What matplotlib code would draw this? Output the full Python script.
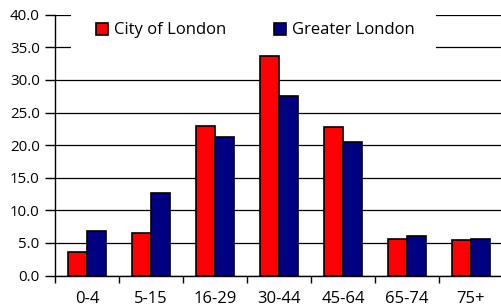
import matplotlib
matplotlib.use("Agg")
import matplotlib.pyplot as plt
from matplotlib.patches import Rectangle
import numpy as np

categories = ["0-4", "5-15", "16-29", "30-44", "45-64", "65-74", "75+"]
city = [3.6, 6.5, 22.9, 33.7, 22.8, 5.6, 5.4]
greater = [6.9, 12.7, 21.3, 27.6, 20.5, 6.0, 5.6]
yticks = [0, 5, 10, 15, 20, 25, 30, 35, 40]

plt.rcParams['font.family'] = ['Open Sans', 'DejaVu Sans']

W, H = 501, 308
fig = plt.figure(figsize=(W/100, H/100), dpi=100)
left, right, top, bottom = 55, 503, 14.7, 275.5
ax = fig.add_axes([left/W, (H-bottom)/H, (right-left)/W, (bottom-top)/H])

x = np.arange(len(categories))
bw = 0.297
ax.bar(x - bw/2, city, bw, color="#ff0000", edgecolor="black", linewidth=1.2, label="City of London", zorder=3)
ax.bar(x + bw/2, greater, bw, color="#000080", edgecolor="black", linewidth=1.2, label="Greater London", zorder=3)

ax.set_xlim(-0.5, len(categories) - 0.5)
ax.set_ylim(0, 40)
ax.set_yticks(yticks)
ax.set_yticklabels([f"{v:.1f}" for v in yticks], fontsize=10.8)
ax.set_xticks(x)
ax.set_xticklabels(categories, fontsize=12)
ax.set_xticks(np.arange(len(categories) + 1) - 0.5, minor=True)
ax.tick_params(axis='x', which='major', length=0, pad=11)
ax.tick_params(axis='x', which='minor', length=5, width=1, direction='out')
ax.tick_params(axis='y', length=7, width=1, direction='out', pad=4)
ax.yaxis.grid(True, color="black", linewidth=0.9, zorder=0)
ax.set_axisbelow(True)
for s in ["top", "right"]:
    ax.spines[s].set_visible(False)
for s in ["left", "bottom"]:
    ax.spines[s].set_linewidth(1.0)

# white box behind legend hiding the gridlines
bg = Rectangle((71/W, (H-51)/H), (436-71)/W, 43/H, transform=fig.transFigure,
               facecolor="white", edgecolor="none", zorder=2)
ax.add_artist(bg)

leg = ax.legend(loc="center left", bbox_to_anchor=(96/W, (H-30.5)/H), bbox_transform=fig.transFigure,
                ncol=2, fontsize=12, frameon=False, handlelength=0.72, handleheight=0.72,
                handletextpad=0.35, columnspacing=2.9, borderpad=0, borderaxespad=0)
leg.set_zorder(5)

fig.savefig("out.png", dpi=100)
